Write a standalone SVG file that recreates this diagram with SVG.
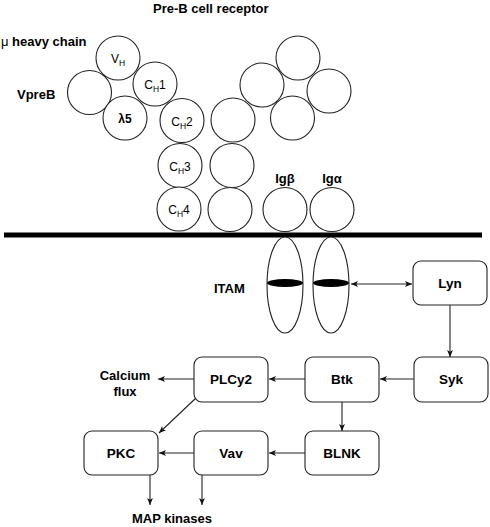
<svg xmlns="http://www.w3.org/2000/svg" width="490" height="527" viewBox="0 0 490 527">
<style>
text{font-family:"Liberation Sans",Arial,sans-serif;fill:#000}
.b{font-weight:bold;font-size:13px}
.bx{font-weight:bold;font-size:13.5px;text-anchor:middle}
.cl{font-size:12px;text-anchor:middle}
.dom{fill:#fff;stroke:#222;stroke-width:1.1}
.box{fill:#fff;stroke:#222;stroke-width:1.1}
.con{stroke:#222;stroke-width:1.1;fill:none}
</style>
<defs>
<marker id="ah" viewBox="0 0 10 10" refX="10" refY="5" markerWidth="8" markerHeight="7" markerUnits="userSpaceOnUse" orient="auto-start-reverse">
<path d="M0,0.8 L10,5 L0,9.2 L2.5,5 z" fill="#111"/>
</marker>
</defs>
<text class="b" x="153" y="13">Pre-B cell receptor</text>
<text class="b" x="1" y="46"><tspan font-weight="normal">μ</tspan> heavy chain</text>
<text class="b" x="17" y="99">VpreB</text>
<g id="receptor-left">
<circle class="dom" cx="118" cy="58" r="22"/>
<circle class="dom" cx="155" cy="84" r="22"/>
<circle class="dom" cx="89.5" cy="92.5" r="22"/>
<circle class="dom" cx="125" cy="118" r="22"/>
<circle class="dom" cx="182" cy="120.5" r="22"/>
<circle class="dom" cx="180" cy="165.5" r="22"/>
<circle class="dom" cx="179" cy="209" r="22"/>
<text class="cl" x="118" y="63">V<tspan font-size="8.5" dy="3">H</tspan></text>
<text class="cl" x="155" y="89">C<tspan font-size="8.5" dy="3">H</tspan><tspan dy="-3">1</tspan></text>
<text class="cl" x="125" y="123" font-weight="bold" font-size="13">λ5</text>
<text class="cl" x="182" y="125.5">C<tspan font-size="8.5" dy="3">H</tspan><tspan dy="-3">2</tspan></text>
<text class="cl" x="180" y="170.5">C<tspan font-size="8.5" dy="3">H</tspan><tspan dy="-3">3</tspan></text>
<text class="cl" x="179" y="214">C<tspan font-size="8.5" dy="3">H</tspan><tspan dy="-3">4</tspan></text>
</g>
<g id="receptor-right">
<circle class="dom" cx="298" cy="58" r="22"/>
<circle class="dom" cx="262" cy="85" r="22"/>
<circle class="dom" cx="329" cy="91" r="22"/>
<circle class="dom" cx="292.5" cy="118" r="22"/>
<circle class="dom" cx="233" cy="120" r="22"/>
<circle class="dom" cx="232" cy="165.5" r="22"/>
<circle class="dom" cx="230" cy="209.5" r="22"/>
</g>
<g id="igb">
<circle class="dom" cx="285" cy="209.5" r="22"/>
<text class="b" x="285" y="183" text-anchor="middle">Igβ</text>
</g>
<g id="iga">
<circle class="dom" cx="332" cy="209.5" r="22"/>
<text class="b" x="332" y="183" text-anchor="middle">Igα</text>
</g>
<rect id="membrane" x="4" y="232.5" width="478" height="5" fill="#000"/>
<g id="itam">
<ellipse class="dom" cx="285" cy="285" rx="18" ry="48"/>
<ellipse class="dom" cx="331" cy="285" rx="18" ry="48"/>
<ellipse cx="285" cy="283" rx="18" ry="4" fill="#000"/>
<ellipse cx="331" cy="283" rx="18" ry="4" fill="#000"/>
<text class="b" x="214" y="293">ITAM</text>
</g>
<g id="lyn"><rect class="box" x="413" y="261" width="74" height="44" rx="8"/><text class="bx" x="450" y="288">Lyn</text></g>
<g id="syk"><rect class="box" x="414" y="357" width="74" height="45" rx="8"/><text class="bx" x="451" y="384">Syk</text></g>
<g id="btk"><rect class="box" x="305" y="357" width="74" height="45" rx="8"/><text class="bx" x="342" y="384">Btk</text></g>
<g id="plcy2"><rect class="box" x="194" y="357" width="74" height="45" rx="8"/><text class="bx" x="231" y="384">PLCy2</text></g>
<g id="blnk"><rect class="box" x="305" y="431" width="74" height="44" rx="8"/><text class="bx" x="342" y="458">BLNK</text></g>
<g id="vav"><rect class="box" x="194" y="431" width="74" height="44" rx="8"/><text class="bx" x="231" y="458">Vav</text></g>
<g id="pkc"><rect class="box" x="84" y="431" width="74" height="44" rx="8"/><text class="bx" x="121" y="458">PKC</text></g>
<g id="calcium"><text class="b" x="125" y="380" text-anchor="middle">Calcium</text><text class="b" x="125" y="396" text-anchor="middle">flux</text></g>
<g id="map"><text class="b" x="172" y="523" text-anchor="middle">MAP kinases</text></g>
<g id="connectors">
<line class="con" x1="351" y1="284" x2="412" y2="284" marker-start="url(#ah)" marker-end="url(#ah)"/>
<line class="con" x1="450" y1="305" x2="450" y2="357" marker-end="url(#ah)"/>
<line class="con" x1="414" y1="379" x2="380" y2="379" marker-end="url(#ah)"/>
<line class="con" x1="305" y1="379" x2="269" y2="379" marker-end="url(#ah)"/>
<line class="con" x1="194" y1="379" x2="158" y2="379" marker-end="url(#ah)"/>
<line class="con" x1="342" y1="402" x2="342" y2="431" marker-end="url(#ah)"/>
<line class="con" x1="305" y1="453" x2="269" y2="453" marker-end="url(#ah)"/>
<line class="con" x1="194" y1="453" x2="159" y2="453" marker-end="url(#ah)"/>
<line class="con" x1="196" y1="398" x2="159" y2="433" marker-end="url(#ah)"/>
<line class="con" x1="150" y1="475" x2="150" y2="505" marker-end="url(#ah)"/>
<line class="con" x1="202" y1="475" x2="202" y2="505" marker-end="url(#ah)"/>
</g>
</svg>
